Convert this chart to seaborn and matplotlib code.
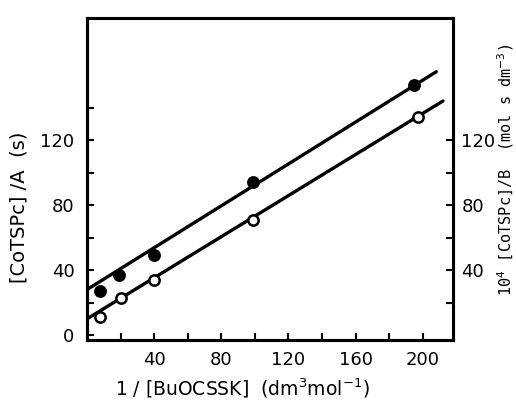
import matplotlib
matplotlib.use("Agg")
import matplotlib.pyplot as plt
import seaborn as sns
import numpy as np
import pandas as pd

# data
x_filled = [8, 19, 40, 99, 195]
y_filled = [27, 37, 49, 94, 154]
x_open = [8, 20, 40, 99, 197]
y_open = [11, 23, 34, 71, 134]
# fitted straight lines (endpoints)
fit_x_filled = [0, 208]
fit_y_filled = [28, 162]
fit_x_open = [0, 212]
fit_y_open = [10, 144]

x_ticks = [40, 80, 120, 160, 200]
y_ticks_left = [0, 40, 80, 120]
y_ticks_right = [40, 80, 120]
minor_ticks_x = [20, 60, 100, 140, 180]
minor_ticks_y_left = [20, 60, 100, 140]
minor_ticks_y_right = [20, 60, 100]

sns.set_style("ticks")
plt.rcParams['font.family'] = ['DejaVu Sans']
plt.rcParams['text.color'] = 'black'
plt.rcParams['axes.labelcolor'] = 'black'
plt.rcParams['xtick.color'] = 'black'
plt.rcParams['ytick.color'] = 'black'
plt.rcParams['axes.edgecolor'] = 'black'

fig = plt.figure(figsize=(5.16, 4.11), dpi=100)
ax = fig.add_axes([0.1686, 0.1727, 0.878 - 0.1686, 0.956 - 0.1727])

df_f = pd.DataFrame({"x": x_filled, "y": y_filled})
df_o = pd.DataFrame({"x": x_open, "y": y_open})
df_lf = pd.DataFrame({"x": fit_x_filled, "y": fit_y_filled})
df_lo = pd.DataFrame({"x": fit_x_open, "y": fit_y_open})

sns.lineplot(data=df_lf, x="x", y="y", ax=ax, color="black", lw=2.4, zorder=2)
sns.lineplot(data=df_lo, x="x", y="y", ax=ax, color="black", lw=2.4, zorder=2)
sns.scatterplot(data=df_f, x="x", y="y", ax=ax, s=65, color="black",
                edgecolor="black", linewidth=1.2, zorder=3)
sns.scatterplot(data=df_o, x="x", y="y", ax=ax, s=55, color="white",
                edgecolor="black", linewidth=1.8, zorder=3)

ax.set_xlim(0, 218)
ax.set_ylim(-3, 195)
ax.set_xticks(x_ticks)
ax.set_xticks(minor_ticks_x, minor=True)
ax.set_yticks(y_ticks_left)
ax.set_yticks(minor_ticks_y_left, minor=True)
ax.tick_params(which="both", direction="in", length=5, width=1.5,
               labelsize=13, colors="black")
ax.tick_params(axis="y", pad=9)
ax.tick_params(axis="x", pad=8)
for s in ax.spines.values():
    s.set_linewidth(2.2)
    s.set_color("black")
    s.set_visible(True)
ax.set_xlabel("")
ax.set_ylabel("")

ax2 = ax.twinx()
ax2.set_ylim(ax.get_ylim())
ax2.set_yticks(y_ticks_right)
ax2.set_yticks(minor_ticks_y_right, minor=True)
ax2.tick_params(which="both", direction="in", length=5, width=1.5,
                labelsize=13, colors="black", pad=6)
for s in ax2.spines.values():
    s.set_linewidth(2.2)
    s.set_color("black")

fig.text(242 / 516, 1 - 388 / 411, "1 / [BuOCSSK]  (dm$^3$mol$^{-1}$)",
         fontsize=13.5, ha="center", va="center", color="black")
fig.text(19 / 516, 1 - 207 / 411, "[CoTSPc] /A  (s)",
         fontsize=14, ha="center", va="center", rotation=90, color="black")
fig.text(506 / 516, 1 - 170 / 411, "10$^4$ [CoTSPc]/B  (mol s dm$^{-3}$)",
         fontsize=11, family="DejaVu Sans Mono", ha="center", va="center",
         rotation=90, color="black")

fig.savefig("out.png", dpi=100)
